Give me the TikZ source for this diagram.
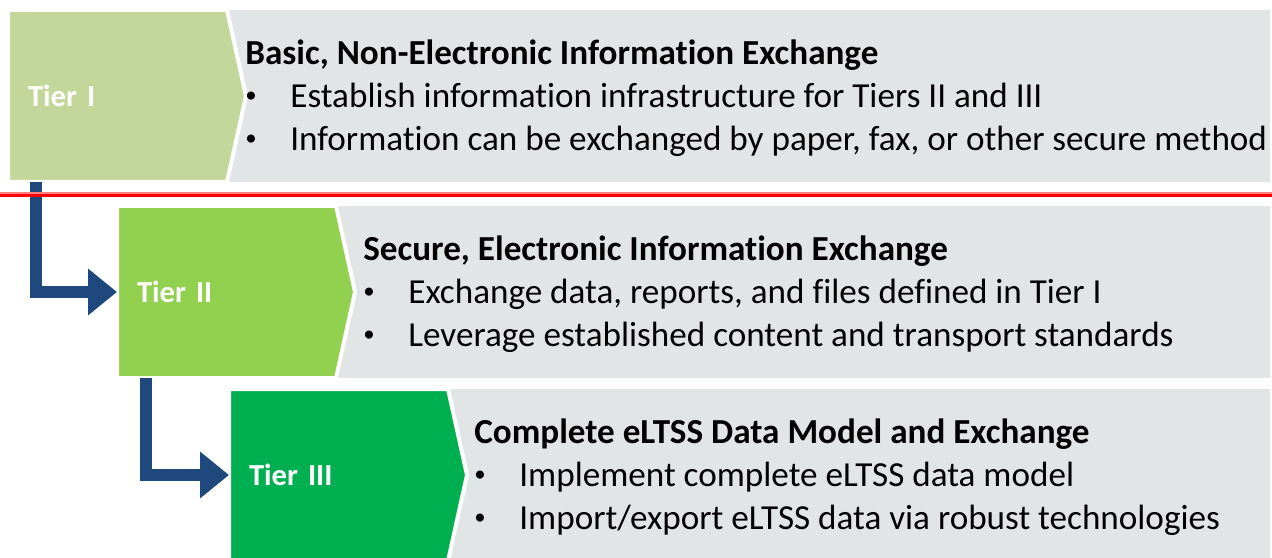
\documentclass[tikz,border=0pt]{standalone}
\usepackage{graphicx}
\usepackage{fontspec}
\setmainfont{Carlito}[Ligatures=NoCommon]
\usetikzlibrary{arrows.meta,backgrounds}
\definecolor{tieronegreen}{HTML}{C4D79B}
\definecolor{tiertwogreen}{HTML}{92D050}
\definecolor{tierthreegreen}{HTML}{00B050}
\definecolor{panelgray}{HTML}{E2E5E6}
\definecolor{flowblue}{HTML}{1F497D}
\newcommand{\itm}{\makebox[0.9cm][l]{\raisebox{0.1cm}{\scalebox{0.65}{\textbullet}}}}

\begin{document}
\begin{tikzpicture}[
          tier/.style={rectangle,minimum width=4.38cm,minimum height=3.44cm,
            text width=3.58cm,inner xsep=0.4cm,inner ysep=0pt,outer sep=0pt,
            align=left,text=white,font=\bfseries\fontsize{17.4}{21}\selectfont},
          chevron/.style={draw=white,line width=0.08cm,line join=miter},
          panel/.style={fill=panelgray},
          desc/.style={anchor=north west,inner sep=0pt,align=left,
            font=\fontsize{20}{24.4}\selectfont},
          flow/.style={draw=flowblue,line width=0.25cm,
            -{Triangle[length=0.58cm,width=0.9cm]}}]
        \useasboundingbox (0,0) rectangle (25.44,11.14);
        \coordinate (edge) at (25.40,0);
        \coordinate (cutl) at (0,7.23);
        \coordinate (cutr) at (25.44,7.23);

        \node[tier] (t1) at (2.35,9.22)  {Tier I};
        \node[tier] (t2) at (4.53,5.30)  {Tier II};
        \node[tier] (t3) at (6.77,1.64)  {Tier III};

        \begin{scope}[on background layer]
          \foreach \t/\c in {t1/tieronegreen,t2/tiertwogreen,t3/tierthreegreen} {
            \fill[panel] ([xshift=-0.1cm]\t.north east) rectangle (\t.south -| edge);
            \filldraw[chevron,fill=\c] (\t.north west) -- (\t.north east)
              -- ([xshift=0.38cm]\t.east) -- (\t.south east) -- (\t.south west) -- cycle;
          }
        \end{scope}

        \node[desc] (d1) at ([xshift=0.36cm,yshift=-0.49cm]t1.north east)
          {\strut\textbf{Basic, Non-Electronic Information Exchange}\\
           \itm Establish information infrastructure for Tiers II and III\\
           \itm Information can be exchanged by paper, fax, or other secure method};
        \node[desc] (d2) at ([xshift=0.54cm,yshift=-0.49cm]t2.north east)
          {\strut\textbf{Secure, Electronic Information Exchange}\\
           \itm Exchange data, reports, and files defined in Tier I\\
           \itm Leverage established content and transport standards};
        \node[desc] (d3) at ([xshift=0.52cm,yshift=-0.49cm]t3.north east)
          {\strut\textbf{Complete eLTSS Data Model and Exchange}\\
           \itm Implement complete eLTSS data model\\
           \itm Import/export eLTSS data via robust technologies};

        \draw[flow] ([xshift=0.56cm]t1.south west) |- (t2.west);
        \draw[flow] ([xshift=0.58cm]t2.south west) |- (t3.west);

        \draw[red!50,line width=0.04cm] ([yshift=0.05cm]cutl) -- ([yshift=0.05cm]cutr);
        \draw[red,line width=0.06cm] (cutl) -- (cutr);
      \end{tikzpicture}
\end{document}
